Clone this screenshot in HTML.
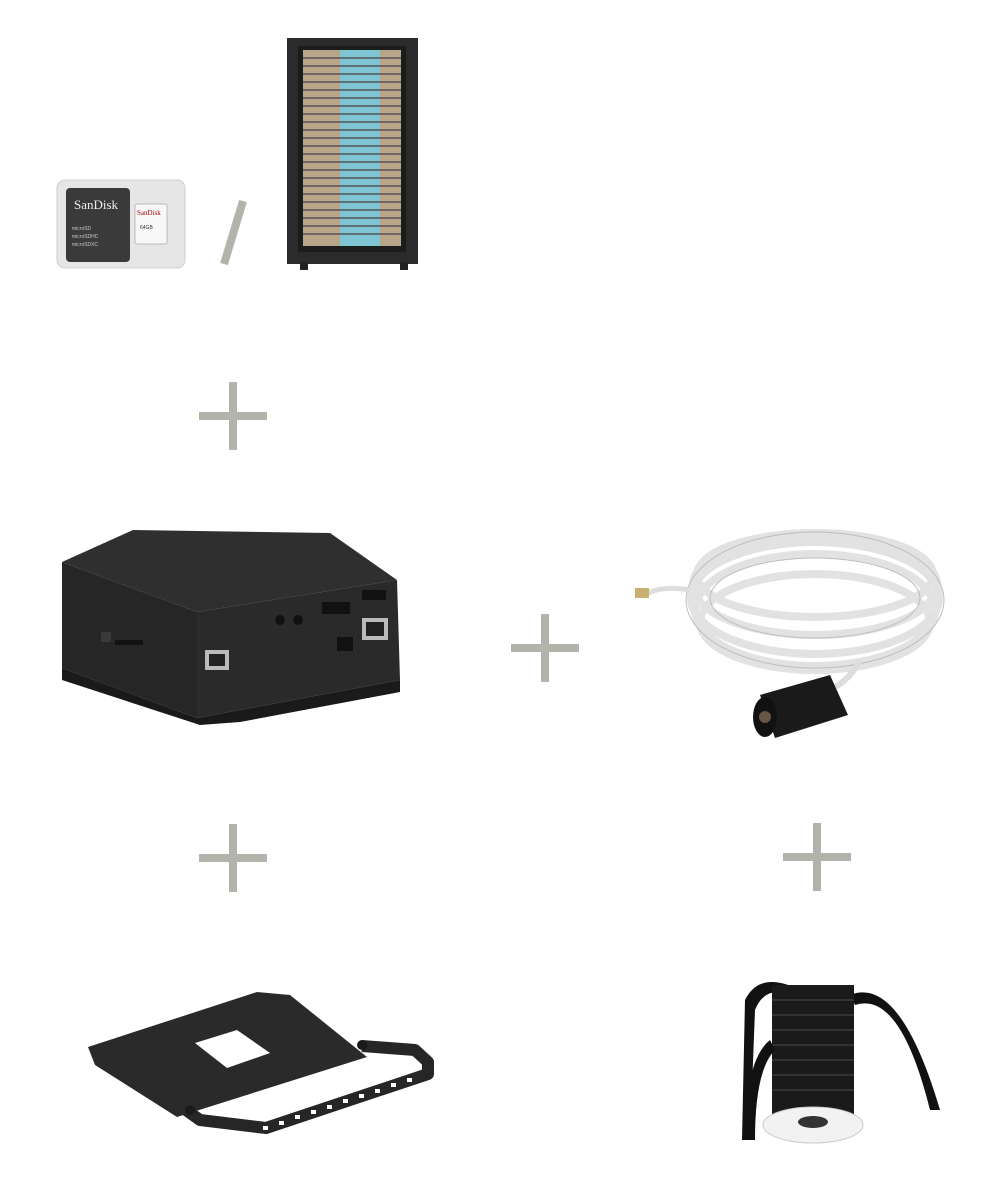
<!DOCTYPE html>
<html><head><meta charset="utf-8"><style>
html,body{margin:0;padding:0;background:#fff;}
svg{display:block}
</style></head><body>
<svg width="1005" height="1200" viewBox="0 0 1005 1200" xmlns="http://www.w3.org/2000/svg">
<!-- SD card pack -->
<rect x="57" y="180" width="128" height="88" rx="8" fill="#e6e6e6" stroke="#cfcfcf"/>
<rect x="66" y="188" width="64" height="74" rx="4" fill="#3a3a3a"/>
<text x="74" y="209" font-family="Liberation Serif, serif" font-size="13" fill="#eee">SanDisk</text>
<text x="72" y="230" font-family="Liberation Sans, sans-serif" font-size="5" fill="#ccc">microSD</text>
<text x="72" y="238" font-family="Liberation Sans, sans-serif" font-size="5" fill="#ccc">microSDHC</text>
<text x="72" y="246" font-family="Liberation Sans, sans-serif" font-size="5" fill="#ccc">microSDXC</text>
<rect x="135" y="204" width="32" height="40" rx="2" fill="#f8f8f8" stroke="#bbb"/>
<text x="137" y="215" font-family="Liberation Serif, serif" font-size="7" fill="#a00">SanDisk</text>
<text x="140" y="229" font-family="Liberation Sans, sans-serif" font-size="5" fill="#333">64GB</text>
<!-- slash -->
<line x1="243" y1="201" x2="224" y2="264" stroke="#b3b3ab" stroke-width="8"/>
<!-- server rack -->
<rect x="287" y="38" width="131" height="226" fill="#2b2b2b"/>
<rect x="298" y="46" width="108" height="206" fill="#1c1c1c"/>
<rect x="303" y="50" width="98" height="196" fill="#b9a58a"/>
<rect x="340" y="50" width="40" height="196" fill="#7fc6d4"/>
<g stroke="#555" stroke-width="1.5">
<line x1="303" y1="58" x2="401" y2="58"/><line x1="303" y1="66" x2="401" y2="66"/><line x1="303" y1="74" x2="401" y2="74"/><line x1="303" y1="82" x2="401" y2="82"/><line x1="303" y1="90" x2="401" y2="90"/><line x1="303" y1="98" x2="401" y2="98"/><line x1="303" y1="106" x2="401" y2="106"/><line x1="303" y1="114" x2="401" y2="114"/><line x1="303" y1="122" x2="401" y2="122"/><line x1="303" y1="130" x2="401" y2="130"/><line x1="303" y1="138" x2="401" y2="138"/><line x1="303" y1="146" x2="401" y2="146"/><line x1="303" y1="154" x2="401" y2="154"/><line x1="303" y1="162" x2="401" y2="162"/><line x1="303" y1="170" x2="401" y2="170"/><line x1="303" y1="178" x2="401" y2="178"/><line x1="303" y1="186" x2="401" y2="186"/><line x1="303" y1="194" x2="401" y2="194"/><line x1="303" y1="202" x2="401" y2="202"/><line x1="303" y1="210" x2="401" y2="210"/><line x1="303" y1="218" x2="401" y2="218"/><line x1="303" y1="226" x2="401" y2="226"/><line x1="303" y1="234" x2="401" y2="234"/>
</g>
<rect x="300" y="262" width="8" height="8" fill="#222"/><rect x="400" y="262" width="8" height="8" fill="#222"/>
<!-- plus signs -->
<g fill="#b3b3ab">
<rect x="199" y="412" width="68" height="8"/><rect x="229" y="382" width="8" height="68"/>
<rect x="511" y="644" width="68" height="8"/><rect x="541" y="614" width="8" height="68"/>
<rect x="199" y="854" width="68" height="8"/><rect x="229" y="824" width="8" height="68"/>
<rect x="783" y="853" width="68" height="8"/><rect x="813" y="823" width="8" height="68"/>
</g>
<!-- box device -->
<polygon points="62,562 133,530 330,533 397,580 197,612" fill="#2f2f2f"/>
<polygon points="62,562 197,612 197,718 62,668" fill="#262626"/>
<polygon points="197,612 397,580 400,680 197,718" fill="#2a2a2a"/>
<polygon points="62,668 197,718 400,680 400,692 240,722 200,725 62,680" fill="#1a1a1a"/>
<rect x="205" y="650" width="24" height="20" fill="#bbb"/><rect x="209" y="654" width="16" height="12" fill="#222"/>
<rect x="362" y="618" width="26" height="22" fill="#bbb"/><rect x="366" y="622" width="18" height="14" fill="#222"/>
<rect x="322" y="602" width="28" height="12" fill="#111"/>
<rect x="362" y="590" width="24" height="10" fill="#111"/>
<rect x="337" y="637" width="16" height="14" fill="#111"/>
<circle cx="280" cy="620" r="5" fill="#111"/><circle cx="298" cy="620" r="5" fill="#111"/>
<rect x="101" y="632" width="10" height="10" fill="#3a3a3a"/>
<rect x="115" y="640" width="28" height="5" fill="#111"/>
<!-- cable -->
<g fill="none" stroke="#e2e2e2" stroke-width="8">
<ellipse cx="815" cy="585" rx="122" ry="50"/>
<ellipse cx="815" cy="598" rx="124" ry="56"/>
<ellipse cx="815" cy="610" rx="120" ry="56"/>
<ellipse cx="815" cy="622" rx="115" ry="48"/>
<ellipse cx="815" cy="575" rx="118" ry="42"/>
</g>
<g fill="none" stroke="#bdbdbd" stroke-width="1">
<ellipse cx="815" cy="600" rx="129" ry="68"/>
<ellipse cx="815" cy="598" rx="105" ry="40"/>
</g>
<path d="M690 590 Q660 585 645 595" stroke="#ddd" stroke-width="5" fill="none"/>
<rect x="635" y="588" width="14" height="10" fill="#c9b070"/>
<path d="M860 660 Q850 680 830 690" stroke="#ddd" stroke-width="6" fill="none"/>
<polygon points="760,695 830,675 848,715 775,738" fill="#1a1a1a"/>
<ellipse cx="765" cy="717" rx="12" ry="20" fill="#111"/>
<circle cx="765" cy="717" r="6" fill="#654"/>
<!-- bracket -->
<polyline points="186,1110 200,1120 266,1128 428,1074 428,1062 415,1050 362,1046" fill="none" stroke="#262626" stroke-width="12" stroke-linejoin="round"/>
<g fill="#fff"><rect x="263" y="1126" width="5" height="4"/><rect x="279" y="1121" width="5" height="4"/><rect x="295" y="1115" width="5" height="4"/><rect x="311" y="1110" width="5" height="4"/><rect x="327" y="1105" width="5" height="4"/><rect x="343" y="1099" width="5" height="4"/><rect x="359" y="1094" width="5" height="4"/><rect x="375" y="1089" width="5" height="4"/><rect x="391" y="1083" width="5" height="4"/><rect x="407" y="1078" width="5" height="4"/></g>
<polygon points="88,1047 257,992 290,995 367,1057 177,1117 95,1065" fill="#2a2a2a"/>
<polygon points="195,1043 237,1030 270,1053 227,1068" fill="#fff"/>
<circle cx="190" cy="1110" r="5" fill="#1a1a1a"/><circle cx="362" cy="1045" r="5" fill="#1a1a1a"/>
<!-- recessed mount -->
<path d="M745 1000 Q760 970 800 990 L790 995 Q765 985 755 1010 L750 1140 L742 1140 Z" fill="#111"/>
<path d="M850 995 Q900 975 940 1110 L930 1110 Q900 990 855 1005 Z" fill="#111"/>
<rect x="772" y="985" width="82" height="130" fill="#1a1a1a"/>
<g stroke="#333" stroke-width="2"><line x1="772" y1="1000" x2="854" y2="1000"/><line x1="772" y1="1015" x2="854" y2="1015"/><line x1="772" y1="1030" x2="854" y2="1030"/><line x1="772" y1="1045" x2="854" y2="1045"/><line x1="772" y1="1060" x2="854" y2="1060"/><line x1="772" y1="1075" x2="854" y2="1075"/><line x1="772" y1="1090" x2="854" y2="1090"/></g>
<ellipse cx="813" cy="1125" rx="50" ry="18" fill="#f2f2f2" stroke="#ccc"/>
<ellipse cx="813" cy="1122" rx="15" ry="6" fill="#333"/>
<path d="M770 1040 Q745 1060 745 1140 L755 1140 Q755 1070 775 1050 Z" fill="#111"/>
</svg>
</body></html>
